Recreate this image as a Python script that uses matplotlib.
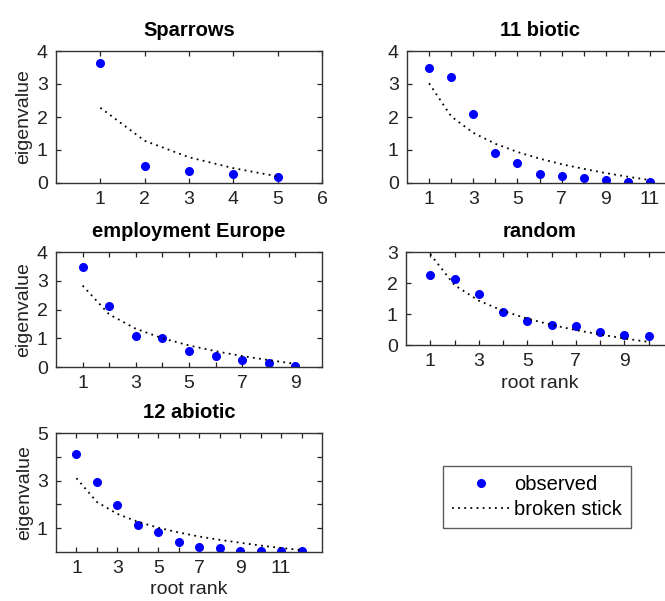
import matplotlib.pyplot as plt

plt.rcParams['font.family'] = ['Liberation Sans', 'DejaVu Sans']

# observed eigenvalues and broken-stick expectations per data set
sparrows_obs = [3.64, 0.53, 0.37, 0.28, 0.18]
sparrows_bs = [2.28, 1.28, 0.78, 0.45, 0.20]

biotic_obs = [3.47, 3.20, 2.08, 0.92, 0.60, 0.26, 0.22, 0.14, 0.09, 0.03, 0.02]
biotic_bs = [3.02, 2.02, 1.52, 1.19, 0.94, 0.74, 0.57, 0.43, 0.30, 0.19, 0.09]

employ_obs = [3.48, 2.12, 1.08, 1.00, 0.55, 0.38, 0.23, 0.15, 0.04]
employ_bs = [2.83, 1.83, 1.33, 1.00, 0.75, 0.55, 0.38, 0.24, 0.11]

random_obs = [2.25, 2.13, 1.66, 1.08, 0.79, 0.66, 0.62, 0.42, 0.33, 0.29]
random_bs = [2.93, 1.93, 1.43, 1.10, 0.85, 0.65, 0.48, 0.34, 0.21, 0.10]

abiotic_obs = [4.11, 2.96, 1.97, 1.14, 0.82, 0.42, 0.23, 0.15, 0.04, 0.04, 0.04, 0.04]
abiotic_bs = [3.10, 2.10, 1.60, 1.27, 1.02, 0.82, 0.65, 0.51, 0.39, 0.27, 0.17, 0.08]

W, H = 665, 601
fig = plt.figure(figsize=(W / 100, H / 100), dpi=100)


def box(l, t, r, b):
    # pixel box -> figure fraction rect
    return [l / W, 1 - b / H, (r - l) / W, (b - t) / H]


panels = [
    # title, obs, bs, rect, xlim, ylim, yticks, ylabels, label step, ylabel?, xlabel?
    ("Sparrows", sparrows_obs, sparrows_bs, box(56, 51, 322, 183), 6, 4, [0, 1, 2, 3, 4], None, 1, True, False),
    ("11 biotic", biotic_obs, biotic_bs, box(407, 51, 672, 183), 12, 4, [0, 1, 2, 3, 4], None, 2, False, False),
    ("employment Europe", employ_obs, employ_bs, box(56, 252, 322, 367), 10, 4, [0, 1, 2, 3, 4], None, 2, True, False),
    ("random", random_obs, random_bs, box(406, 252, 673, 345), 11, 3, [0, 1, 2, 3], None, 2, False, True),
    ("12 abiotic", abiotic_obs, abiotic_bs, box(56, 433, 322, 552), 13, 5, [1, 2, 3, 4, 5],
     ['1', '', '3', '', '5'], 2, True, True),
]

fs = 14
handles = None
for title, obs, bs, rect, xmax, ymax, yt, ylab, step, has_ylabel, has_xlabel in panels:
    ax = fig.add_axes(rect)
    ranks = list(range(1, len(obs) + 1))
    h1, = ax.plot(ranks, obs, 'o', color='#0000ff', markersize=5.5, linestyle='none', label='observed')
    h2, = ax.plot(ranks, bs, color='black', linestyle=(0, (1, 2.4)), linewidth=1.3, label='broken stick')
    if handles is None:
        handles = [h1, h2]
    ax.set_xlim(0, xmax)
    ax.set_ylim(0, ymax)
    xt = list(range(1, xmax if step == 2 else xmax + 1))
    ax.set_xticks(xt)
    ax.set_xticklabels([str(v) if (v - 1) % step == 0 else '' for v in xt])
    ax.set_yticks(yt)
    if ylab is not None:
        ax.set_yticklabels(ylab)
    ax.tick_params(direction='in', top=True, right=True, length=3.5, width=0.9,
                   labelsize=fs, pad=6, colors='#222222', labelcolor='#222222')
    for s in ax.spines.values():
        s.set_color('#333333')
        s.set_linewidth(1.0)
    ax.set_title(title, fontsize=14.5, fontweight='bold', pad=11)
    if has_ylabel:
        ax.set_ylabel('eigenvalue', fontsize=fs, labelpad=3, color='#222222')
    if has_xlabel:
        ax.set_xlabel('root rank', fontsize=fs, labelpad=3, color='#222222')

leg = fig.legend(handles, ['observed', 'broken stick'], loc='upper left',
                 bbox_to_anchor=(443 / W, 1 - 466 / H), borderaxespad=0,
                 fancybox=False, fontsize=14.5, handlelength=2.9, handletextpad=0.2,
                 borderpad=0.45, labelspacing=0.3)
leg.get_frame().set_edgecolor('#333333')
leg.get_frame().set_linewidth(1.0)

fig.savefig('out.png', dpi=100)
